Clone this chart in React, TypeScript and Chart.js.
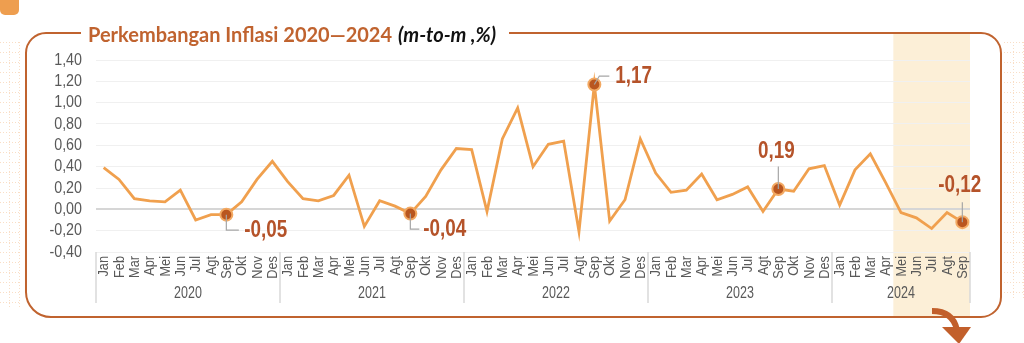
import React, { useEffect, useRef } from "react";
import { Chart, registerables } from "chart.js";

Chart.register(...registerables);

const MONTHS = ["Jan", "Feb", "Mar", "Apr", "Mei", "Jun", "Jul", "Agt", "Sep", "Okt", "Nov", "Des"];
const YEARS = ["2020", "2021", "2022", "2023", "2024"];
const MONTHS_2024 = 9;

const values2020 = [0.39, 0.28, 0.1, 0.08, 0.07, 0.18, -0.1, -0.05, -0.05, 0.07, 0.28, 0.45];
const values2021 = [0.26, 0.1, 0.08, 0.13, 0.32, -0.16, 0.08, 0.03, -0.04, 0.12, 0.37, 0.57];
const values2022 = [0.56, -0.02, 0.66, 0.95, 0.4, 0.61, 0.64, -0.21, 1.17, -0.11, 0.09, 0.66];
const values2023 = [0.34, 0.16, 0.18, 0.33, 0.09, 0.14, 0.21, -0.02, 0.19, 0.17, 0.38, 0.41];
const values2024 = [0.04, 0.37, 0.52, 0.25, -0.03, -0.08, -0.18, -0.03, -0.12];

const HIGHLIGHT_INDEX = [8, 20, 32, 44, 56];
const Y_MIN = -0.4;
const Y_MAX = 1.4;
const Y_STEP = 0.2;

const TITLE_MAIN = "Perkembangan Inflasi 2020\u20142024";
const TITLE_UNIT = "(m-to-m ,%)";

const labels: string[] = [];
YEARS.forEach((y, yi) => {
  const n = yi === YEARS.length - 1 ? MONTHS_2024 : 12;
  for (let m = 0; m < n; m++) labels.push(MONTHS[m]);
});
const values = [...values2020, ...values2021, ...values2022, ...values2023, ...values2024];

const fmt = (v: number) => (Math.abs(v) < 1e-9 ? 0 : v).toFixed(2).replace(".", ",");

// style: leader / label placement per annotation (pixels relative to point)
const LABEL_STYLE = [
  { leader: [[0, 15.5], [12.5, 15.5]], text: [18, 16], align: "left" },
  { leader: [[0, 15.5], [9, 15.5]], text: [13, 16], align: "left" },
  { leader: [[5, -8.5], [15, -8.5]], text: [21, -7.5], align: "left" },
  { leader: [[0, -22.5]], text: [-2, -37], align: "center" },
  { leader: [[0, -20]], text: [-2.5, -36], align: "center" },
];

const ORANGE = "#C0632F";
const LINE = "#F0A04E";
const SANS = "'Liberation Sans', Arial, sans-serif";
const GREY_TEXT = "#595959";

function narrowText(
  ctx: CanvasRenderingContext2D,
  text: string,
  x: number,
  y: number,
  sx: number,
  align: CanvasTextAlign,
  rot = 0
) {
  ctx.save();
  ctx.translate(x, y);
  if (rot) ctx.rotate(rot);
  ctx.scale(sx, 1);
  ctx.textAlign = align;
  ctx.fillText(text, 0, 0);
  ctx.restore();
}

const decorPlugin = {
  id: "decor",
  beforeDraw(chart: any) {
    const { ctx, scales } = chart;
    const x = scales.x;
    ctx.save();
    ctx.fillStyle = "#ffffff";
    ctx.fillRect(0, 0, chart.width, chart.height);

    // dotted grid pattern on sides
    ctx.strokeStyle = "#F9DEC6";
    ctx.lineWidth = 1;
    ctx.setLineDash([1, 2]);
    const drawPattern = (x0: number, x1: number, y0: number, y1: number) => {
      for (let xx = x0; xx <= x1; xx += 10) {
        ctx.beginPath();
        ctx.moveTo(xx + 0.5, y0);
        ctx.lineTo(xx + 0.5, y1);
        ctx.stroke();
      }
      for (let yy = y0; yy <= y1; yy += 10) {
        ctx.beginPath();
        ctx.moveTo(x0 - 9, yy + 0.5);
        ctx.lineTo(x1, yy + 0.5);
        ctx.stroke();
      }
    };
    drawPattern(9, 19, 42, 308);
    drawPattern(1013, 1023, 42, 300);
    ctx.setLineDash([]);

    // top-left tab
    ctx.fillStyle = "#EE9E4F";
    ctx.beginPath();
    ctx.roundRect(0, -10, 19, 25, 5);
    ctx.fill();

    // 2024 highlight band
    const bx0 = x.getPixelForValue(51.5);
    const bx1 = x.getPixelForValue(56.5);
    ctx.fillStyle = "#FCEFD7";
    ctx.fillRect(bx0, 33, bx1 - bx0, 284);

    // frame
    const L = 26, T = 33, R = 1001, B = 317;
    ctx.strokeStyle = ORANGE;
    ctx.lineWidth = 2;
    ctx.beginPath();
    ctx.moveTo(509, T);
    ctx.lineTo(R - 20, T);
    ctx.arcTo(R, T, R, T + 20, 20);
    ctx.lineTo(R, B - 20);
    ctx.arcTo(R, B, R - 20, B, 20);
    ctx.lineTo(L + 25, B);
    ctx.arcTo(L, B, L, B - 25, 25);
    ctx.lineTo(L, T + 20);
    ctx.arcTo(L, T, L + 20, T, 20);
    ctx.lineTo(81, T);
    ctx.stroke();

    // title
    ctx.textBaseline = "middle";
    ctx.textAlign = "left";
    ctx.fillStyle = ORANGE;
    ctx.font = "bold 20px Lato, 'Open Sans', sans-serif";
    ctx.fillText(TITLE_MAIN, 88, 36);
    const w = ctx.measureText(TITLE_MAIN).width;
    ctx.fillStyle = "#111111";
    ctx.font = "italic bold 20px Lato, 'Open Sans', sans-serif";
    ctx.fillText(TITLE_UNIT, 88 + w + 6, 36);

    // arrow bottom right
    ctx.strokeStyle = "#C25F2B";
    ctx.fillStyle = "#C25F2B";
    ctx.lineWidth = 6;
    ctx.beginPath();
    ctx.moveTo(932, 311);
    ctx.quadraticCurveTo(953, 311, 957, 330);
    ctx.stroke();
    ctx.beginPath();
    ctx.moveTo(942, 327);
    ctx.lineTo(971, 327);
    ctx.lineTo(959, 344);
    ctx.closePath();
    ctx.fill();
    ctx.restore();
  },
  afterDraw(chart: any) {
    const { ctx, scales, chartArea } = chart;
    const x = scales.x;
    const y = scales.y;
    ctx.save();

    // y tick labels
    ctx.fillStyle = GREY_TEXT;
    ctx.font = `17px ${SANS}`;
    ctx.textBaseline = "middle";
    y.ticks.forEach((t: any) => {
      narrowText(ctx, fmt(t.value), 82, y.getPixelForValue(t.value), 0.84, "right");
    });

    // month labels (rotated)
    ctx.font = `15px ${SANS}`;
    ctx.textBaseline = "middle";
    labels.forEach((lab, i) => {
      narrowText(ctx, lab, x.getPixelForValue(i) + 0.5, chartArea.bottom + 4, 0.85, "right", -Math.PI / 2);
    });

    // year separators
    ctx.strokeStyle = "#D9D9D9";
    ctx.lineWidth = 1.5;
    let start = 0;
    const bounds: number[] = [];
    YEARS.forEach((yy, yi) => {
      const n = yi === YEARS.length - 1 ? MONTHS_2024 : 12;
      bounds.push(start - 0.5);
      start += n;
    });
    bounds.push(start - 0.5);
    bounds.forEach((b) => {
      const px = x.getPixelForValue(b);
      ctx.beginPath();
      ctx.moveTo(px, chartArea.bottom);
      ctx.lineTo(px, 303);
      ctx.stroke();
    });
    // year labels
    ctx.fillStyle = GREY_TEXT;
    ctx.font = `16px ${SANS}`;
    ctx.textBaseline = "middle";
    YEARS.forEach((yy, yi) => {
      const a = x.getPixelForValue(bounds[yi]);
      const b = x.getPixelForValue(bounds[yi + 1]);
      narrowText(ctx, yy, (a + b) / 2, 294, 0.78, "center");
    });
    ctx.restore();
  },
  afterDatasetsDraw(chart: any) {
    const { ctx } = chart;
    const meta = chart.getDatasetMeta(0);
    ctx.save();
    HIGHLIGHT_INDEX.forEach((idx, i) => {
      const pt = meta.data[idx];
      const st = LABEL_STYLE[i];
      ctx.strokeStyle = "#A6A6A6";
      ctx.lineWidth = 1.2;
      ctx.beginPath();
      ctx.moveTo(pt.x, pt.y);
      st.leader.forEach((p: number[]) => ctx.lineTo(pt.x + p[0], pt.y + p[1]));
      ctx.stroke();
      ctx.fillStyle = "#B5532A";
      ctx.font = `bold 23px ${SANS}`;
      ctx.textBaseline = "middle";
      narrowText(ctx, fmt(values[idx]), pt.x + st.text[0], pt.y + st.text[1], 0.82, st.align as CanvasTextAlign);
    });
    ctx.restore();
  },
};

export default function App() {
  const ref = useRef<HTMLCanvasElement>(null);
  useEffect(() => {
    if (!ref.current) return;
    const chart = new Chart(ref.current, {
      type: "line",
      data: {
        labels,
        datasets: [
          {
            data: values,
            borderColor: LINE,
            borderWidth: 2.8,
            tension: 0,
            pointRadius: (c: any) => (HIGHLIGHT_INDEX.includes(c.dataIndex) ? 6 : 0),
            pointHoverRadius: 0,
            pointBackgroundColor: "#B9561F",
            pointBorderColor: "#F3A962",
            pointBorderWidth: 2,
          },
        ],
      },
      options: {
        animation: false,
        responsive: false,
        events: [],
        layout: { padding: { left: 0, right: 54, top: 60, bottom: 40 } },
        plugins: { legend: { display: false }, tooltip: { enabled: false }, title: { display: false } },
        scales: {
          x: {
            type: "category",
            offset: true,
            grid: { display: false },
            border: { display: false },
            afterFit: (s: any) => {
              s.height = 51;
            },
            ticks: { display: false, autoSkip: false },
          },
          y: {
            min: Y_MIN,
            max: Y_MAX,
            afterFit: (s: any) => {
              s.width = 96;
            },
            border: { display: false },
            grid: {
              drawTicks: false,
              color: (c: any) => (c.tick && Math.abs(c.tick.value) < 1e-9 ? "#D6D6D6" : "#F0F0F0"),
              lineWidth: (c: any) => (c.tick && Math.abs(c.tick.value) < 1e-9 ? 2 : 1),
            },
            ticks: {
              display: false,
              autoSkip: false,
              stepSize: Y_STEP,
              callback: (v: any) => fmt(Number(v)),
            },
          },
        },
      },
      plugins: [decorPlugin],
    });
    return () => chart.destroy();
  }, []);
  return (
    <div style={{ position: "fixed", left: 0, top: 0, width: 1024, height: 343 }}>
      <canvas ref={ref} width={1024} height={343} style={{ width: 1024, height: 343, display: "block" }} />
    </div>
  );
}
